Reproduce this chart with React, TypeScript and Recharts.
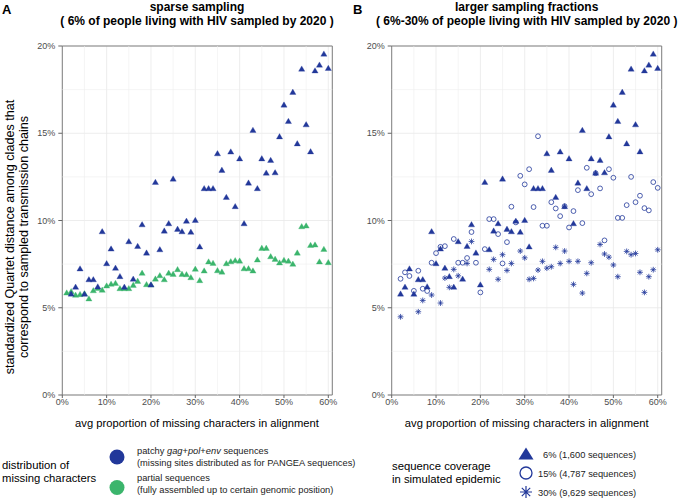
import React from "react";
import {
  CartesianGrid,
  ReferenceArea,
  ReferenceLine,
  Scatter,
  ScatterChart,
  XAxis,
  YAxis,
} from "recharts";

// values (x: % missing characters, y: % quartet distance)
const patchyX = [2, 3, 4, 5, 6, 7, 8, 9, 10, 11, 12, 13, 14, 15, 16, 17, 18, 19, 20, 21, 22, 23, 24, 25, 26, 27, 28, 29, 30, 31, 32, 33, 34, 35, 36, 37, 38, 39, 40, 41, 42, 43, 44, 45, 46, 47, 48, 49, 50, 51, 52, 53, 54, 55, 56, 57, 58, 59, 60];
const patchyY = [5.78, 6.17, 7.22, 5.77, 6.6, 6.6, 6.19, 9.35, 7.52, 8.36, 7.26, 6.78, 6.17, 8.78, 6.63, 8.51, 9.75, 8.13, 6.3, 12.18, 8.32, 9.39, 9.81, 12.37, 9.49, 9.35, 9.95, 9.32, 10.0, 8.48, 11.82, 11.82, 11.82, 13.82, 12.87, 11.32, 13.92, 10.79, 13.53, 9.81, 12.14, 15.16, 11.82, 13.53, 12.71, 13.44, 12.73, 14.79, 16.61, 15.67, 17.34, 14.39, 18.67, 15.48, 13.93, 18.57, 18.9, 19.53, 18.71];

const partialX = [1, 2, 3, 4, 5, 6, 7, 8, 9, 10, 11, 12, 13, 14, 15, 16, 17, 18, 19, 20, 21, 22, 23, 24, 25, 26, 27, 28, 29, 30, 31, 32, 33, 34, 35, 36, 37, 38, 39, 40, 41, 42, 43, 44, 45, 46, 47, 48, 49, 50, 51, 52, 53, 54, 55, 56, 57, 58, 59, 60];
const partialY = [5.84, 5.92, 5.71, 5.75, 5.8, 5.5, 5.97, 6.1, 6.0, 6.24, 6.34, 6.39, 6.09, 6.09, 6.09, 6.28, 6.51, 6.97, 6.32, 6.3, 6.64, 6.83, 6.6, 6.97, 6.91, 7.18, 6.91, 6.89, 6.72, 7.2, 6.55, 7.1, 7.62, 7.54, 7.12, 7.04, 7.52, 7.63, 7.69, 7.67, 7.23, 7.23, 7.1, 7.73, 8.4, 8.4, 7.92, 7.77, 7.56, 7.71, 7.66, 7.49, 8.13, 9.64, 9.68, 8.57, 8.59, 7.62, 8.34, 7.58];

const cov15X = [2, 3, 4, 5, 6, 7, 8, 9, 10, 11, 12, 14, 15, 16, 17, 18, 19, 20, 21, 22, 23, 24, 25, 26, 27, 28, 29, 30, 31, 32, 33, 34, 35, 36, 37, 38, 39, 40, 41, 42, 43, 44, 45, 46, 47, 48, 49, 50, 51, 52, 53, 54, 55, 56, 57, 58, 59, 60];
const cov15Y = [6.66, 7.03, 6.82, 5.97, 7.12, 6.09, 5.96, 7.58, 8.13, 8.49, 8.53, 8.94, 7.58, 7.58, 7.85, 9.34, 7.58, 5.88, 8.36, 10.08, 10.08, 9.22, 7.54, 8.76, 10.79, 9.89, 12.56, 12.07, 12.94, 10.77, 14.83, 9.7, 9.7, 11.05, 10.69, 10.25, 10.82, 9.6, 10.54, 11.74, 9.85, 13.02, 11.51, 12.71, 11.84, 8.86, 12.94, 12.45, 10.15, 10.15, 10.88, 12.5, 11.05, 11.42, 10.71, 10.58, 12.2, 11.87];

const cov30X = [2, 6, 7, 9, 11, 12, 13, 14, 15, 17, 18, 22, 23, 24, 25, 26, 27, 29, 30, 31, 32, 33, 34, 35, 36, 37, 38, 39, 40, 41, 42, 43, 44, 45, 47, 48, 49, 50, 51, 53, 54, 55, 56, 57, 58, 59, 60];
const cov30Y = [4.48, 4.77, 5.42, 5.73, 5.27, 6.7, 6.17, 7.2, 6.83, 7.54, 8.8, 7.2, 7.77, 6.63, 8.04, 7.14, 7.54, 8.25, 7.86, 6.63, 6.68, 7.16, 7.66, 7.27, 7.35, 8.46, 7.54, 8.25, 7.66, 6.34, 7.66, 5.84, 6.97, 7.58, 8.63, 8.08, 7.9, 7.45, 6.78, 8.23, 8.04, 8.11, 7.03, 5.88, 6.78, 7.18, 8.32];

const xTicks = [0, 10, 20, 30, 40, 50, 60];
const yTicks = [0, 5, 10, 15, 20];
const xMinor = [5, 15, 25, 35, 45, 55];
const yMinor = [2.5, 7.5, 12.5, 17.5];

const X_MAX = 60.9;
const BLUE = "#22389a";
const GREEN = "#3bb56c";
const FONT = "'Liberation Sans', Arial, Helvetica, sans-serif";

const toPoints = (xs: number[], ys: number[]) => xs.map((x, i) => ({ x, y: ys[i] }));

const triangle = (color: string) => (p: any) => {
  const { cx, cy } = p;
  return (
    <path
      d={`M${cx},${cy - 3.3}L${cx + 3.1},${cy + 2}L${cx - 3.1},${cy + 2}Z`}
      fill={color}
      stroke={color}
      strokeWidth={0.3}
    />
  );
};

const ring = (p: any) => <circle cx={p.cx} cy={p.cy} r={2.4} fill="none" stroke={BLUE} strokeWidth={0.8} />;

const asterisk = (p: any) => {
  const { cx, cy } = p;
  const r = 2.9;
  const d = r * 0.707;
  return (
    <path
      d={`M${cx - r},${cy}H${cx + r}M${cx},${cy - r}V${cy + r}M${cx - d},${cy - d}L${cx + d},${cy + d}M${cx - d},${cy + d}L${cx + d},${cy - d}`}
      stroke={BLUE}
      strokeWidth={0.8}
      fill="none"
    />
  );
};

const tickStyle = { fontSize: 9, fill: "#4d4d4d", fontFamily: FONT };

function Panel({ left, marginLeft, marginRight, children }: any) {
  return (
    <div style={{ position: "absolute", left, top: 0 }}>
      <ScatterChart
        width={340}
        height={499}
        margin={{ top: 46, right: marginRight, bottom: 74, left: marginLeft }}
      >
        <CartesianGrid stroke="#e8e8e8" strokeWidth={0.8} />
        {xMinor.map((v) => (
          <ReferenceLine key={"vx" + v} x={v} stroke="#efefef" strokeWidth={0.6} />
        ))}
        {yMinor.map((v) => (
          <ReferenceLine key={"hy" + v} y={v} stroke="#efefef" strokeWidth={0.6} />
        ))}
        <XAxis
          type="number"
          dataKey="x"
          domain={[0, X_MAX]}
          ticks={xTicks}
          allowDataOverflow
          tickFormatter={(v) => `${v}%`}
          tick={tickStyle}
          tickSize={3}
          tickMargin={1}
          tickLine={{ stroke: "#666" }}
          axisLine={false}
          height={30}
        />
        <YAxis
          type="number"
          dataKey="y"
          domain={[0, 20]}
          ticks={yTicks}
          allowDataOverflow
          tickFormatter={(v) => `${v}%`}
          tick={tickStyle}
          tickSize={4}
          tickMargin={3}
          tickLine={{ stroke: "#666" }}
          axisLine={false}
          width={20}
        />
        {children}
        <ReferenceArea x1={0} x2={X_MAX} y1={0} y2={20} fill="none" stroke="#808080" strokeWidth={1} />
      </ScatterChart>
    </div>
  );
}

export default function App() {
  const patchy = toPoints(patchyX, patchyY);
  const partial = toPoints(partialX, partialY);
  const cov15 = toPoints(cov15X, cov15Y);
  const cov30 = toPoints(cov30X, cov30Y);

  return (
    <div
      style={{
        position: "absolute",
        left: 0,
        top: 0,
        width: 680,
        height: 499,
        background: "#fff",
        fontFamily: FONT,
      }}
    >
      <Panel left={0} marginLeft={42.3} marginRight={7.7}>
        <Scatter data={partial} shape={triangle(GREEN)} isAnimationActive={false} />
        <Scatter data={patchy} shape={triangle(BLUE)} isAnimationActive={false} />
      </Panel>
      <Panel left={340} marginLeft={31.7} marginRight={18.3}>
        <Scatter data={cov30} shape={asterisk} isAnimationActive={false} />
        <Scatter data={cov15} shape={ring} isAnimationActive={false} />
        <Scatter data={patchy} shape={triangle(BLUE)} isAnimationActive={false} />
      </Panel>

      <svg
        width={680}
        height={499}
        style={{ position: "absolute", left: 0, top: 0, pointerEvents: "none" }}
        fontFamily={FONT}
      >
        {/* panel letters and titles */}
        <text x={2} y={13.5} fontSize={13} fontWeight="bold" fill="#000">A</text>
        <text x={353} y={13.5} fontSize={13} fontWeight="bold" fill="#000">B</text>
        <text x={197} y={11.2} fontSize={12} fontWeight="bold" textAnchor="middle" fill="#000">sparse sampling</text>
        <text x={197} y={25} fontSize={12} fontWeight="bold" textAnchor="middle" fill="#000">( 6% of people living with HIV sampled by 2020 )</text>
        <text x={526.7} y={11.2} fontSize={12} fontWeight="bold" textAnchor="middle" fill="#000">larger sampling fractions</text>
        <text x={526.7} y={25} fontSize={12} fontWeight="bold" textAnchor="middle" fill="#000">( 6%-30% of people living with HIV sampled by 2020 )</text>

        {/* y axis title */}
        <text x={14} y={237} fontSize={12.6} textAnchor="middle" transform="rotate(-90 14 237)" fill="#000">
          standardized Quartet distance among clades that
        </text>
        <text x={28} y={237} fontSize={12.6} textAnchor="middle" transform="rotate(-90 28 237)" fill="#000">
          correspond to sampled transmission chains
        </text>

        {/* x axis titles */}
        <text x={197} y={427} fontSize={11.2} textAnchor="middle" fill="#000">avg proportion of missing characters in alignment</text>
        <text x={526.7} y={427} fontSize={11.2} textAnchor="middle" fill="#000">avg proportion of missing characters in alignment</text>

        {/* legend: distribution of missing characters */}
        <text x={2} y={469} fontSize={11.3} fill="#000">distribution of</text>
        <text x={2} y={482} fontSize={11.3} fill="#000">missing characters</text>
        <circle cx={117} cy={457} r={7.5} fill={BLUE} />
        <circle cx={117} cy={487.5} r={7.5} fill={GREEN} />
        <text x={137} y={454} fontSize={9.3} fill="#222">
          patchy <tspan fontStyle="italic">gag</tspan>+<tspan fontStyle="italic">pol</tspan>+<tspan fontStyle="italic">env</tspan> sequences
        </text>
        <text x={137} y={465.5} fontSize={9.3} fill="#222">(missing sites distributed as for PANGEA sequences)</text>
        <text x={137} y={481} fontSize={9.3} fill="#222">partial sequences</text>
        <text x={137} y={493} fontSize={9.3} fill="#222">(fully assembled up to certain genomic position)</text>

        {/* legend: sequence coverage */}
        <text x={392} y={470} fontSize={11.3} fill="#000">sequence coverage</text>
        <text x={392} y={483} fontSize={11.3} fill="#000">in simulated epidemic</text>
        <path d="M526,447.5L533.5,459.5L518.5,459.5Z" fill={BLUE} />
        <circle cx={526} cy={473} r={6} fill="none" stroke={BLUE} strokeWidth={1.3} />
        <path
          d="M520,492H532M526,486V498M521.8,487.8L530.2,496.2M521.8,496.2L530.2,487.8"
          stroke={BLUE}
          strokeWidth={1.2}
          fill="none"
        />
        <text x={543} y={457.5} fontSize={9.3} fill="#222">6% (1,600 sequences)</text>
        <text x={538} y={476.5} fontSize={9.3} fill="#222">15% (4,787 sequences)</text>
        <text x={538} y={495.5} fontSize={9.3} fill="#222">30% (9,629 sequences)</text>
      </svg>
    </div>
  );
}
